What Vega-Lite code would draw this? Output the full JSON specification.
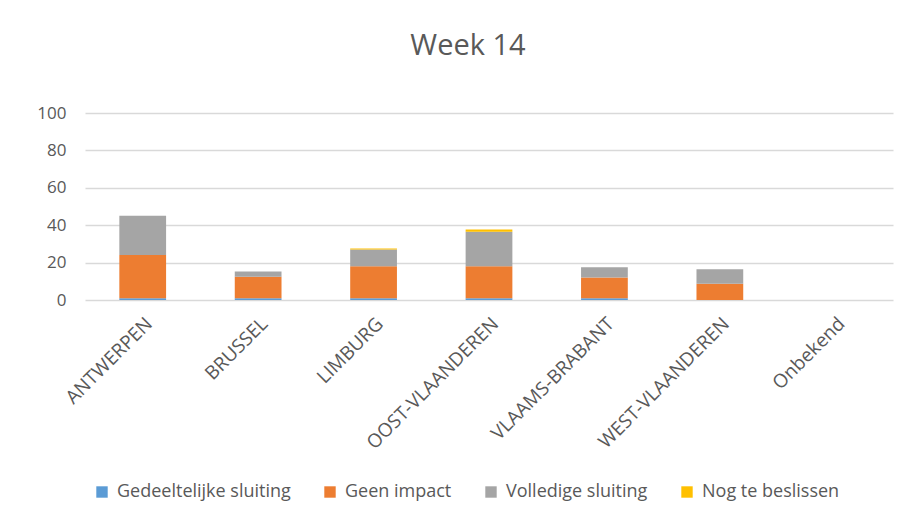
{
  "$schema": "https://vega.github.io/schema/vega-lite/v6.json",
  "width": 808,
  "height": 187,
  "autosize": {"type": "none"},
  "padding": {"left": 85, "top": 113, "right": 21, "bottom": 221},
  "background": "white",
  "title": {"text": "Week 14", "anchor": "middle", "fontSize": 29, "fontWeight": "normal", "color": "#595959", "font": "Open Sans", "offset": 43, "dx": -21},
  "data": {"values": [
    {"provincie": "ANTWERPEN", "status": "Gedeeltelijke sluiting", "aantal": 1},
    {"provincie": "ANTWERPEN", "status": "Geen impact", "aantal": 23},
    {"provincie": "ANTWERPEN", "status": "Volledige sluiting", "aantal": 21},
    {"provincie": "ANTWERPEN", "status": "Nog te beslissen", "aantal": 0},
    {"provincie": "BRUSSEL", "status": "Gedeeltelijke sluiting", "aantal": 1},
    {"provincie": "BRUSSEL", "status": "Geen impact", "aantal": 11.5},
    {"provincie": "BRUSSEL", "status": "Volledige sluiting", "aantal": 2.8},
    {"provincie": "BRUSSEL", "status": "Nog te beslissen", "aantal": 0},
    {"provincie": "LIMBURG", "status": "Gedeeltelijke sluiting", "aantal": 1},
    {"provincie": "LIMBURG", "status": "Geen impact", "aantal": 17},
    {"provincie": "LIMBURG", "status": "Volledige sluiting", "aantal": 9},
    {"provincie": "LIMBURG", "status": "Nog te beslissen", "aantal": 0.5},
    {"provincie": "OOST-VLAANDEREN", "status": "Gedeeltelijke sluiting", "aantal": 1},
    {"provincie": "OOST-VLAANDEREN", "status": "Geen impact", "aantal": 17},
    {"provincie": "OOST-VLAANDEREN", "status": "Volledige sluiting", "aantal": 18.5},
    {"provincie": "OOST-VLAANDEREN", "status": "Nog te beslissen", "aantal": 1.2},
    {"provincie": "VLAAMS-BRABANT", "status": "Gedeeltelijke sluiting", "aantal": 1},
    {"provincie": "VLAAMS-BRABANT", "status": "Geen impact", "aantal": 11},
    {"provincie": "VLAAMS-BRABANT", "status": "Volledige sluiting", "aantal": 5.5},
    {"provincie": "VLAAMS-BRABANT", "status": "Nog te beslissen", "aantal": 0},
    {"provincie": "WEST-VLAANDEREN", "status": "Gedeeltelijke sluiting", "aantal": 0},
    {"provincie": "WEST-VLAANDEREN", "status": "Geen impact", "aantal": 8.7},
    {"provincie": "WEST-VLAANDEREN", "status": "Volledige sluiting", "aantal": 7.7},
    {"provincie": "WEST-VLAANDEREN", "status": "Nog te beslissen", "aantal": 0},
    {"provincie": "Onbekend", "status": "Gedeeltelijke sluiting", "aantal": 0},
    {"provincie": "Onbekend", "status": "Geen impact", "aantal": 0},
    {"provincie": "Onbekend", "status": "Volledige sluiting", "aantal": 0},
    {"provincie": "Onbekend", "status": "Nog te beslissen", "aantal": 0}
  ]},
  "transform": [
    {"calculate": "indexof(['Gedeeltelijke sluiting', 'Geen impact', 'Volledige sluiting', 'Nog te beslissen'], datum.status)", "as": "stapel"}
  ],
  "mark": {"type": "bar", "stroke": null},
  "encoding": {
    "x": {
      "field": "provincie", "type": "nominal",
      "sort": ["ANTWERPEN", "BRUSSEL", "LIMBURG", "OOST-VLAANDEREN", "VLAAMS-BRABANT", "WEST-VLAANDEREN", "Onbekend"],
      "scale": {"paddingInner": 0.595, "paddingOuter": 0.2975},
      "axis": {"title": null, "labelAngle": -45, "labelFontSize": 19, "labelColor": "#595959", "labelFont": "Open Sans", "ticks": false, "domain": false, "labelPadding": 14, "labelBaseline": "top", "labelAlign": "right", "labelLimit": 0}
    },
    "y": {
      "field": "aantal", "type": "quantitative", "stack": "zero",
      "scale": {"domain": [0, 100]},
      "axis": {"title": null, "values": [0, 20, 40, 60, 80, 100], "labelFontSize": 17, "labelColor": "#595959", "labelFont": "Open Sans", "ticks": false, "domain": false, "labelPadding": 19, "gridColor": "#d9d9d9", "gridWidth": 1.5}
    },
    "color": {
      "field": "status", "type": "nominal",
      "sort": ["Gedeeltelijke sluiting", "Geen impact", "Volledige sluiting", "Nog te beslissen"],
      "scale": {"domain": ["Gedeeltelijke sluiting", "Geen impact", "Volledige sluiting", "Nog te beslissen"], "range": ["#5b9bd5", "#ed7d31", "#a5a5a5", "#ffc000"]},
      "legend": {"title": null, "orient": "none", "legendX": 8, "legendY": 370, "direction": "horizontal", "columns": 4, "symbolType": "square", "symbolSize": 130, "symbolStrokeWidth": 0, "labelFontSize": 18, "labelColor": "#595959", "labelFont": "Open Sans", "columnPadding": 30, "labelOffset": 6, "labelLimit": 0}
    },
    "order": {"field": "stapel", "type": "quantitative", "sort": "ascending"}
  },
  "config": {"view": {"stroke": null}}
}
